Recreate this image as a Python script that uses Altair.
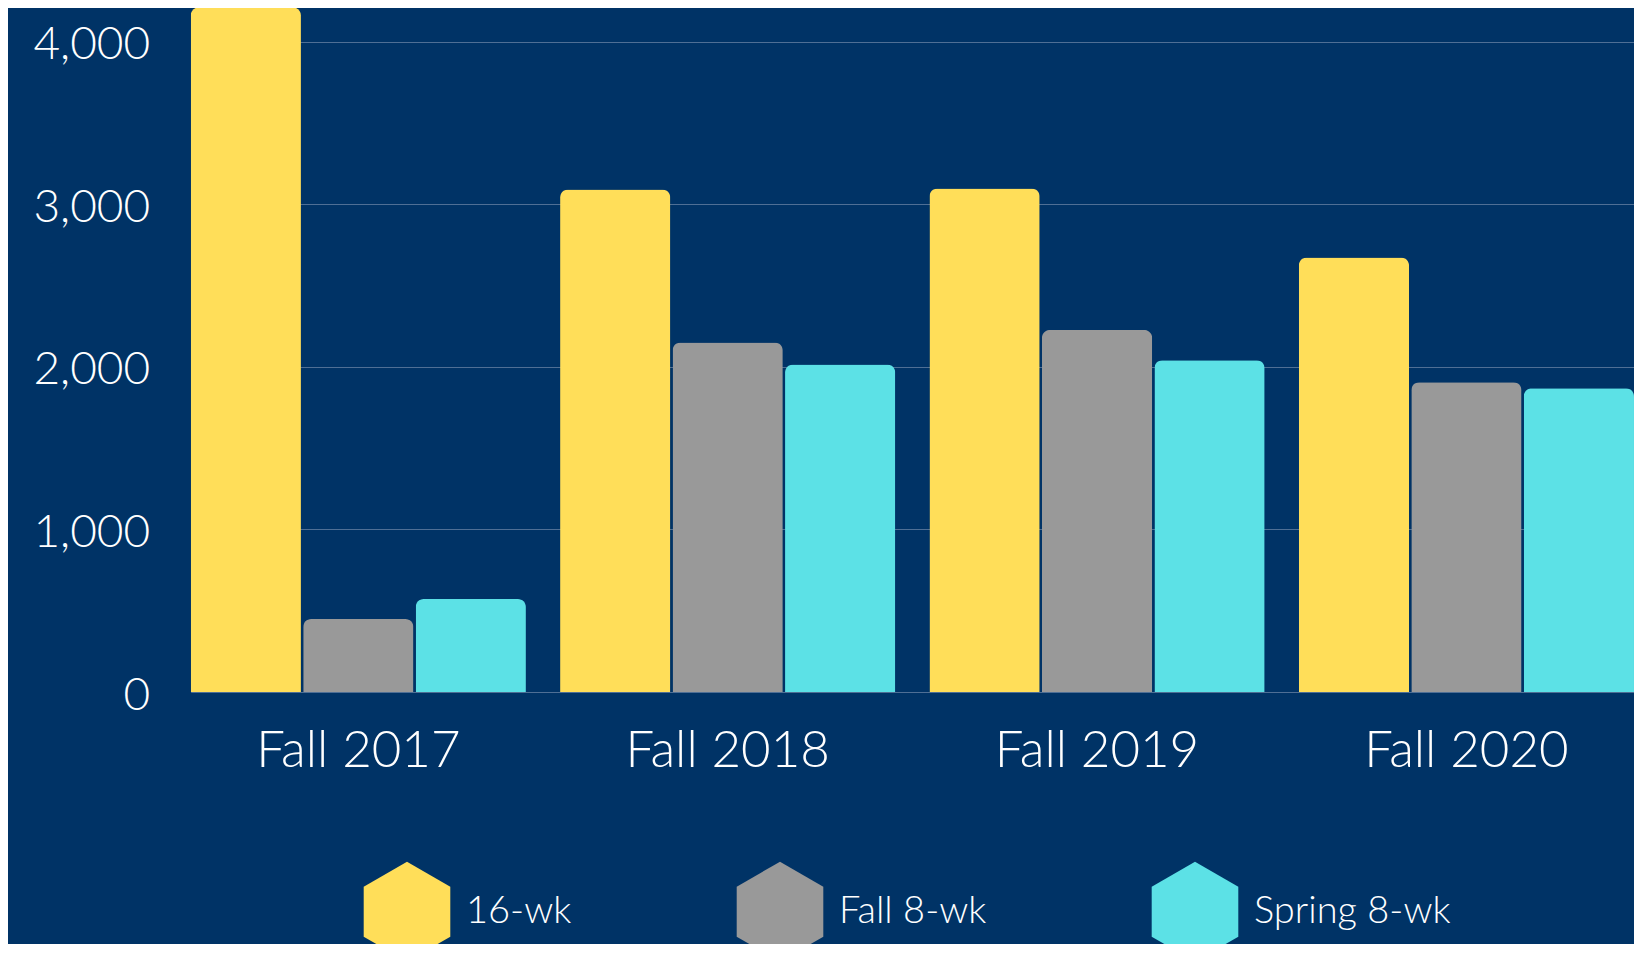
import altair as alt
import pandas as pd

periods = ["Fall 2017", "Fall 2018", "Fall 2019", "Fall 2020"]
series = ["16-wk", "Fall 8-wk", "Spring 8-wk"]
colors = ["#FFDE59", "#999999", "#5CE1E6"]
vals_16wk = [4213, 3092, 3098, 2673]
vals_fall8 = [449, 2151, 2228, 1906]
vals_spring8 = [572, 2016, 2042, 1869]
y_ticks = [0, 1000, 2000, 3000, 4000]

rows = []
for s, vals in zip(series, [vals_16wk, vals_fall8, vals_spring8]):
    for p, v in zip(periods, vals):
        rows.append({"period": p, "series": s, "value": v})
df = pd.DataFrame(rows)

BG = "#003366"
FONT = "Lato"
HEX = "M0,-1L0.866,-0.5L0.866,0.5L0,1L-0.866,0.5L-0.866,-0.5Z"

chart = alt.Chart(df).mark_bar(
    cornerRadiusTopLeft=8, cornerRadiusTopRight=8
).encode(
    x=alt.X("period:N", sort=periods,
            scale=alt.Scale(paddingInner=0.0925, paddingOuter=0),
            axis=alt.Axis(title=None, labelAngle=0, ticks=False, domain=False,
                          labelFont=FONT, labelFontSize=51, labelFontWeight=300,
                          labelColor="white", labelLimit=0,
                          labelPadding=34, grid=False)),
    xOffset=alt.XOffset("series:N", sort=series, scale=alt.Scale(paddingInner=0.02)),
    y=alt.Y("value:Q", scale=alt.Scale(domain=[0, 4209], nice=False),
            axis=alt.Axis(title=None, values=y_ticks, format=",d", ticks=False,
                          domain=False, labelFont=FONT, labelFontSize=46,
                          labelFontWeight=300, labelLimit=0, labelOffset=3,
                          labelColor="white", labelPadding=41,
                          gridColor="#4f6f95", gridWidth=1)),
    color=alt.Color("series:N", sort=series,
                    scale=alt.Scale(domain=series, range=colors),
                    legend=alt.Legend(orient="none", legendX=166.3, legendY=853.7,
                                      direction="horizontal", title=None,
                                      symbolType=HEX, symbolSize=10000,
                                      symbolStrokeWidth=0, symbolOpacity=1,
                                      labelFont=FONT, labelFontSize=38,
                                      labelFontWeight=300, labelLimit=0,
                                      labelColor="white", labelOffset=9,
                                      columnPadding=158, padding=0)),
).properties(
    width=1443.3, height=684,
    padding={"left": 182.7, "top": 0, "right": 0, "bottom": 252},
    autosize="none",
    background=BG,
).configure_view(stroke=None)

chart.save("out.html", embed_options={"renderer": "svg", "actions": False})
